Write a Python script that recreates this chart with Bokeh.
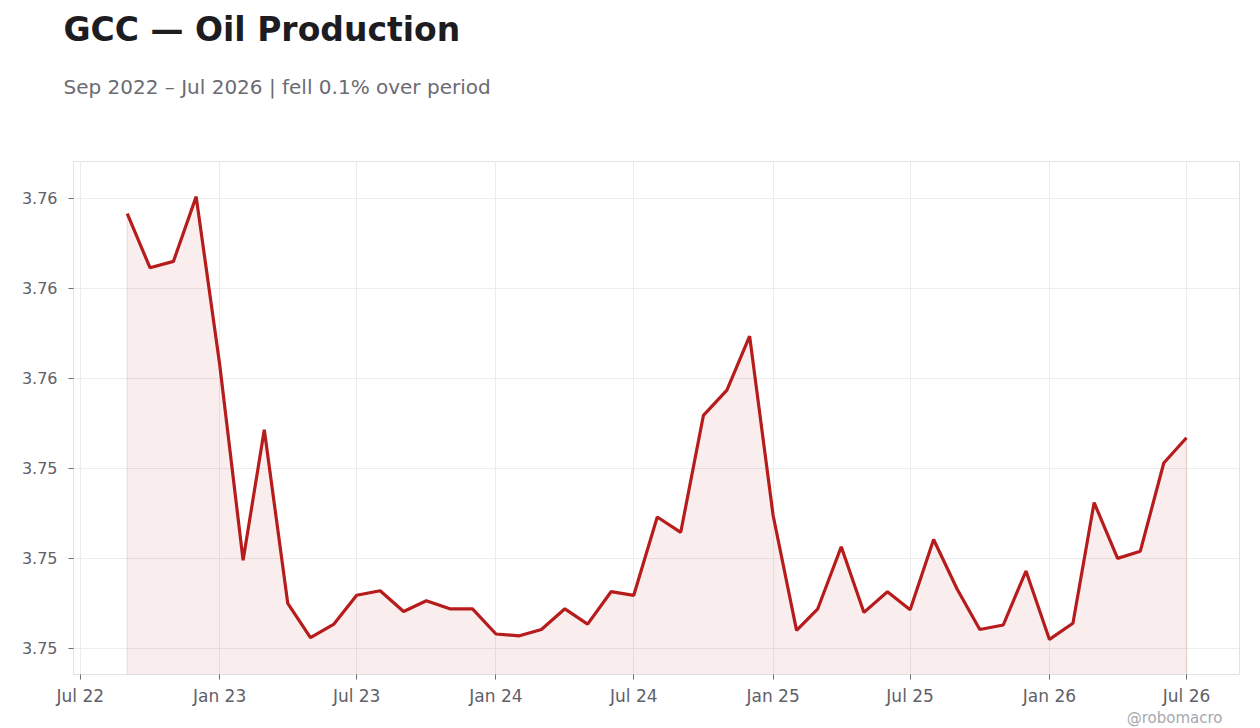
import pandas as pd
from bokeh.plotting import figure
from bokeh.models import (ColumnDataSource, DatetimeTickFormatter, FixedTicker,
                          MonthsTicker, Range1d, Title)
from bokeh.embed import file_html
from bokeh.resources import INLINE

# GCC oil production, monthly, Sep 2022 .. Jul 2026
production = [
    3.75683, 3.75623, 3.75630, 3.75702, 3.75516, 3.75298, 3.75443, 3.75250,
    3.75212, 3.75227, 3.75259, 3.75264, 3.75241, 3.75253, 3.75244, 3.75244,
    3.75216, 3.75214, 3.75221, 3.75244, 3.75227, 3.75263, 3.75259, 3.75346,
    3.75329, 3.75459, 3.75487, 3.75547, 3.75348, 3.75220, 3.75244, 3.75313,
    3.75240, 3.75263, 3.75243, 3.75321, 3.75266, 3.75221, 3.75226, 3.75286,
    3.75210, 3.75228, 3.75362, 3.75300, 3.75308, 3.75406, 3.75434,
]
months = pd.date_range(start="2022-09-01", periods=len(production), freq="MS")

y_ticks = [3.752, 3.753, 3.754, 3.755, 3.756, 3.757]
y_tick_labels = ["3.75", "3.75", "3.75", "3.76", "3.76", "3.76"]

y_lo, y_hi = 3.75171, 3.75741
red = "#b71c1c"

src = ColumnDataSource(dict(x=months, y=production, base=[y_lo] * len(production)))

p = figure(width=1252, height=728, x_axis_type="datetime",
           output_backend="svg", toolbar_location=None,
           x_range=Range1d(pd.Timestamp("2022-06-22"), pd.Timestamp("2026-09-09")),
           y_range=Range1d(y_lo, y_hi),
           min_border_left=73, min_border_right=13, min_border_bottom=45,
           min_border_top=0)
p.title = None

# stacked outward from the frame: spacer, subtitle, title
p.add_layout(Title(text=" ", text_font_size="1px", standoff=44), "above")
p.add_layout(Title(text="Sep 2022 \u2013 Jul 2026 | fell 0.1% over period", align="left",
                   text_font="DejaVu Sans", text_font_size="20px", text_font_style="normal",
                   text_color="#6b6b73", offset=-10, standoff=32), "above")
p.add_layout(Title(text="GCC \u2014 Oil Production", align="left",
                   text_font="DejaVu Sans", text_font_size="33px", text_font_style="bold",
                   text_color="#1c1c21", offset=-10, standoff=15), "above")

p.varea(x="x", y1="base", y2="y", source=src, fill_color=red, fill_alpha=0.08)
p.segment(x0=[months[0], months[-1]], y0=[y_lo, y_lo],
          x1=[months[0], months[-1]], y1=[production[0], production[-1]],
          line_color=red, line_alpha=0.1, line_width=1.5)
p.line(x="x", y="y", source=src, line_color=red, line_width=3.2)

# BokehJS months are zero based: 0 = Jan, 6 = Jul
p.xaxis.ticker = MonthsTicker(months=[0, 6])
p.xaxis.formatter = DatetimeTickFormatter(months="%b %y", years="%b %y", days="%b %y")
p.yaxis.ticker = FixedTicker(ticks=y_ticks)
p.yaxis.major_label_overrides = dict(zip(y_ticks, y_tick_labels))

for ax in (p.xaxis, p.yaxis):
    ax.axis_line_color = None
    ax.major_tick_line_color = "#6b6b73"
    ax.major_tick_out = 5
    ax.major_tick_in = 0
    ax.minor_tick_line_color = None
    ax.major_label_text_font = "DejaVu Sans"
    ax.major_label_text_color = "#5f6068"

p.yaxis.major_label_text_font_size = "16px"
p.yaxis.major_label_standoff = 11
p.xaxis.major_label_text_font_size = "17px"
p.xaxis.major_label_standoff = 6

p.xgrid.grid_line_color = "#ececec"
p.ygrid.grid_line_color = "#ececec"
p.outline_line_color = "#e2e2e2"
p.background_fill_color = "white"
p.border_fill_color = "white"

# watermark under the x axis, right aligned
p.add_layout(Title(text="@robomacro", align="right", vertical_align="top",
                   text_font="DejaVu Sans", text_font_size="15px", text_font_style="normal",
                   text_color="#a8a8ae", offset=17, standoff=0), "below")

open("out.html", "w").write(file_html(p, INLINE))
